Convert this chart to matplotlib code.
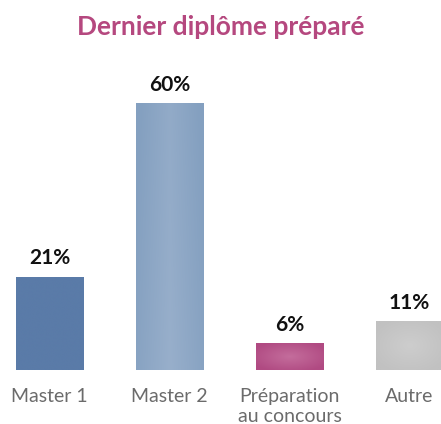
import numpy as np
import matplotlib
matplotlib.use("Agg")
import matplotlib.pyplot as plt
from matplotlib.colors import to_rgb

categories = ["Master 1", "Master 2", "Préparation\nau concours", "Autre"]
values = [21, 60, 6, 11]
labels = ["21%", "60%", "6%", "11%"]
# (edge colour, centre colour, gradient kind)
fills = [("#5a7ba8", "#5a7ba8", "flat"),
         ("#84a0c0", "#98afcb", "stripe"),
         ("#b04a82", "#c46d9c", "radial"),
         ("#c1c1c1", "#cdcdcd", "radial")]
TITLE_C = "#b5487f"; TXT = "#6b6b6b"

plt.rcParams["font.family"] = ["Lato", "DejaVu Sans"]

fig = plt.figure(figsize=(4.41, 4.24), dpi=100)
ax = fig.add_axes([0, 0.1274, 1, 0.6297])
x = np.arange(len(values))
bars = ax.bar(x, values, width=0.56, color="none", lw=0)


def grad_fill(patch, c_edge, c_mid, kind):
    bx, by = patch.get_x(), patch.get_y()
    w, h = patch.get_width(), patch.get_height()
    n = 120
    u, v = np.meshgrid(np.linspace(-1, 1, n), np.linspace(-1, 1, n))
    if kind == "radial":
        t = np.clip(np.sqrt(u ** 2 + v ** 2) / 1.2, 0, 1)
    elif kind == "stripe":
        t = np.clip(np.abs(u) * 0.8 + (v + 1) * 0.15, 0, 1)
    else:
        t = np.zeros_like(u)
    a, b = np.array(to_rgb(c_mid)), np.array(to_rgb(c_edge))
    img = a[None, None, :] * (1 - t[..., None]) + b[None, None, :] * t[..., None]
    im = ax.imshow(img, extent=(bx, bx + w, by, by + h), origin="lower",
                   aspect="auto", interpolation="bilinear", zorder=2)
    im.set_clip_path(patch)


for p, (ce, cm, k) in zip(bars, fills):
    grad_fill(p, ce, cm, k)

for xi, v, lab in zip(x, values, labels):
    ax.annotate(lab, (xi, v), xytext=(0, 13), textcoords="offset points",
                ha="center", va="center", fontsize=15, fontweight="bold", color="#111111")

ax.set_xlim(-0.4125, 3.2625)
ax.set_ylim(0, 60)
ax.set_xticks(x)
ax.set_xticklabels(categories, fontsize=14, color=TXT, linespacing=1.2, va="top")
ax.tick_params(axis="x", length=0, pad=13)
ax.set_yticks([])
for s in ax.spines.values():
    s.set_visible(False)
ax.patch.set_visible(False)

fig.text(0.5, 0.936, "Dernier diplôme préparé", ha="center", va="center",
         fontsize=19, fontweight="bold", color=TITLE_C)

fig.savefig("out.png", dpi=100)
